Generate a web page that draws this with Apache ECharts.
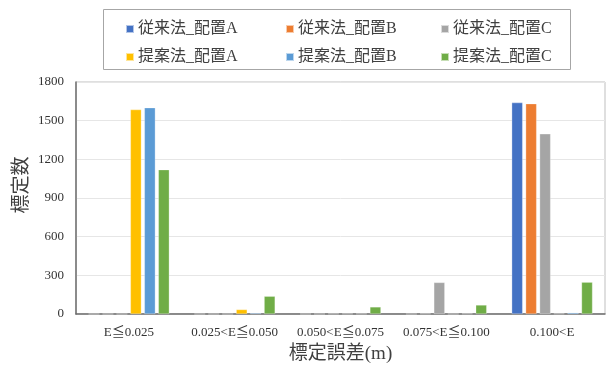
<!DOCTYPE html>
<html>
<head>
<meta charset="utf-8">
<script src="https://cdn.jsdelivr.net/npm/echarts@6/dist/echarts.min.js"></script>
<style>
html,body{margin:0;padding:0;background:#fff;}
#chart{width:609px;height:369px;}
</style>
</head>
<body>
<div id="chart"></div>
<script>
// Error-range categories and counts per method/layout
const categories = ['E≦0.025', '0.025<E≦0.050', '0.050<E≦0.075', '0.075<E≦0.100', '0.100<E'];
const seriesNames = ['従来法_配置A', '従来法_配置B', '従来法_配置C', '提案法_配置A', '提案法_配置B', '提案法_配置C'];
const conventionalA = [0, 0, 0, 0, 1640];
const conventionalB = [0, 0, 0, 3, 1632];
const conventionalC = [0, 0, 2, 245, 1398];
const proposedA = [1586, 35, 2, 0, 3];
const proposedB = [1601, 8, 2, 3, 10];
const proposedC = [1120, 138, 55, 70, 247];
const yTicks = [0, 300, 600, 900, 1200, 1500, 1800];

const values = [conventionalA, conventionalB, conventionalC, proposedA, proposedB, proposedC];
const colors = ['#4472C4', '#ED7D31', '#A5A5A5', '#FFC000', '#5B9BD5', '#70AD47'];
const font = '"Liberation Serif", "Times New Roman", "Noto Sans CJK JP", serif';

const legendPos = [
  [125, 21], [285, 21], [440, 21],
  [125, 49], [285, 49], [440, 49]
];

const chart = echarts.init(document.getElementById('chart'));
chart.setOption({
  animation: false,
  textStyle: { fontFamily: font },
  color: colors,
  graphic: [{
    type: 'rect',
    shape: { x: 103.5, y: 9.5, width: 467, height: 60 },
    style: { fill: 'none', stroke: '#a6a6a6', lineWidth: 1 },
    silent: true
  }],
  legend: seriesNames.map((n, i) => ({
    data: [n],
    left: legendPos[i][0],
    top: legendPos[i][1],
    padding: 0,
    icon: 'rect',
    itemWidth: 8,
    itemHeight: 8,
    itemGap: 4,
    textStyle: { fontFamily: font, fontSize: 16, color: '#404040', padding: [0, 0, 0, -1] }
  })),
  grid: {
    left: 76, right: 4, top: 82, bottom: 55,
    show: true, borderColor: '#bfbfbf', borderWidth: 1, backgroundColor: 'transparent'
  },
  xAxis: {
    type: 'category',
    data: categories,
    name: '標定誤差(m)',
    nameLocation: 'middle',
    nameGap: 31,
    nameTextStyle: { fontFamily: font, fontSize: 19, color: '#404040' },
    axisLine: { lineStyle: { color: '#6f6f6f', width: 1.5 } },
    axisTick: { show: false },
    axisLabel: { fontFamily: font, fontSize: 13, color: '#333', margin: 12, interval: 0 }
  },
  yAxis: {
    type: 'value',
    min: yTicks[0],
    max: yTicks[yTicks.length - 1],
    interval: 300,
    name: '標定数',
    nameLocation: 'middle',
    nameGap: 44,
    nameMoveOverlap: false,
    nameTextStyle: { fontFamily: font, fontSize: 19, color: '#404040', padding: [0, 0, 0, 26] },
    axisLine: { show: true, lineStyle: { color: '#6f6f6f', width: 1.5 } },
    axisTick: { show: false },
    splitLine: { lineStyle: { color: '#e6e6e6' } },
    axisLabel: { fontFamily: font, fontSize: 13, color: '#333', margin: 12, formatter: v => String(v) }
  },
  series: seriesNames.map((n, i) => ({
    name: n,
    type: 'bar',
    data: values[i],
    barWidth: 11,
    barGap: '27%',
    itemStyle: { color: colors[i], borderColor: 'rgba(255,255,255,0.6)', borderWidth: 0.5 }
  }))
});
</script>
</body>
</html>
